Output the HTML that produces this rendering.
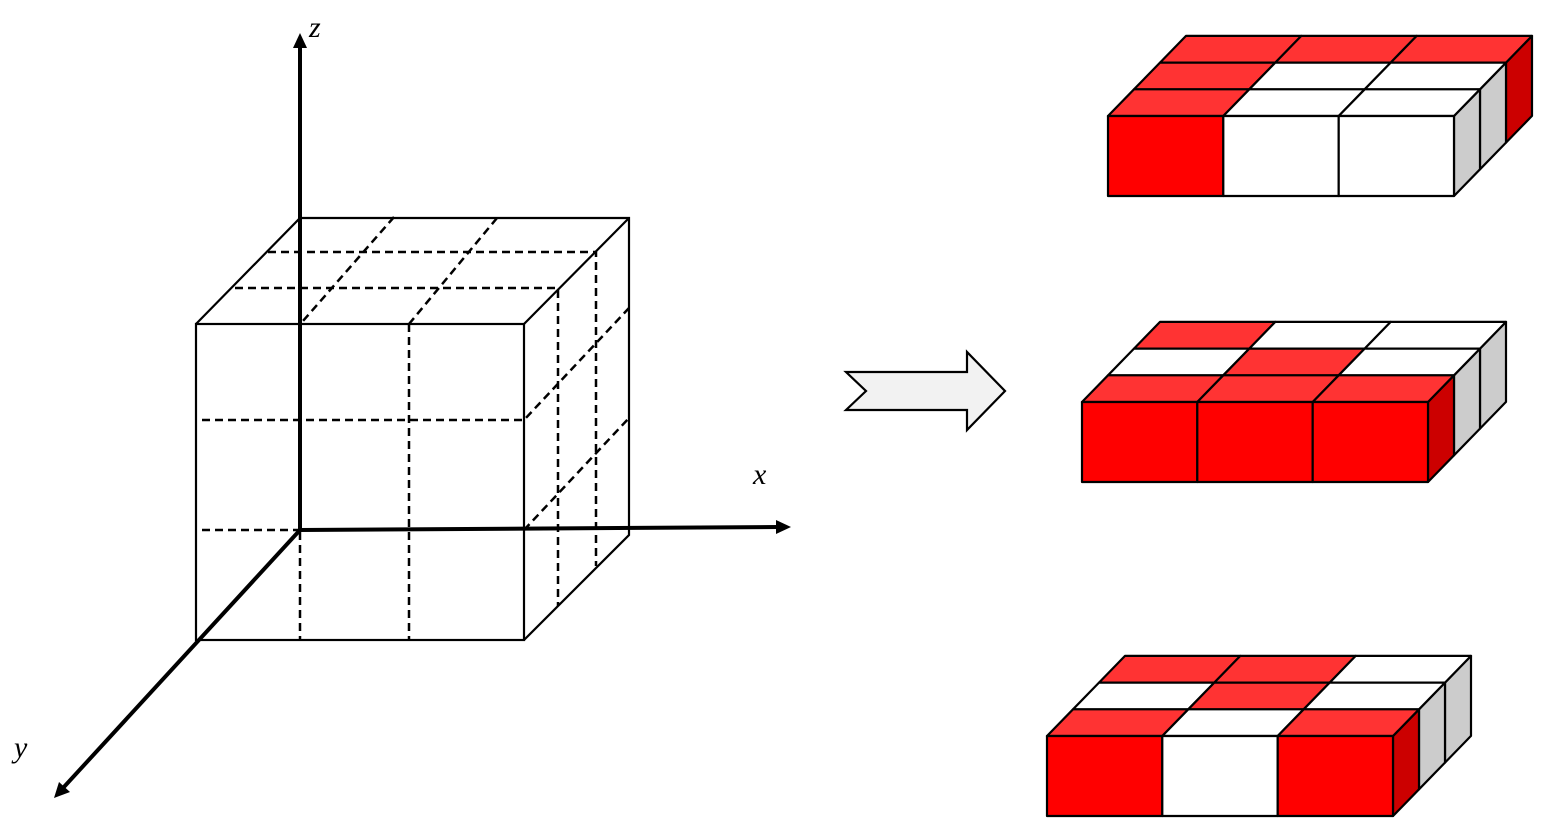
<!DOCTYPE html>
<html><head><meta charset="utf-8"><style>html,body{margin:0;padding:0;background:#fff}svg{display:block}</style></head>
<body>
<svg id="s" width="1558" height="838" viewBox="0 0 1558 838" xmlns="http://www.w3.org/2000/svg">
<rect width="1558" height="838" fill="#fff"/>
<g stroke="#000" stroke-width="2.2" fill="none">
<rect x="196" y="324" width="328" height="316"/>
<polyline points="196,324 300,218 629,218 629,535 524,640"/>
<line x1="524" y1="324" x2="629" y2="218"/>
</g>
<g stroke="#000" stroke-width="2.5" fill="none" stroke-dasharray="8,5">
<polyline points="268,252 596,252 596,566"/>
<polyline points="235,288 558,288 558,606"/>
<line x1="394" y1="217" x2="303" y2="321"/>
<line x1="497" y1="218" x2="409" y2="324"/>
<line x1="409" y1="324" x2="409" y2="640"/>
<line x1="300" y1="532" x2="300" y2="640"/>
<polyline points="202,420 524,420 629,308"/>
<polyline points="202,530 300,530"/>
<line x1="524" y1="530" x2="629" y2="418"/>
</g>
<g stroke="#000" stroke-width="4" fill="none">
<line x1="300" y1="530" x2="300" y2="46"/>
<line x1="300" y1="530" x2="778" y2="527"/>
<line x1="300" y1="530" x2="63" y2="788"/>
</g>
<polygon points="300,33 293,48 307,48" fill="#000"/>
<polygon points="791,527 776,520 776,534" fill="#000"/>
<polygon points="54,798 59,782 70,792" fill="#000"/>
<g font-family="Liberation Serif, serif" font-style="italic" font-size="30" fill="#000">
<text x="309" y="37">z</text>
<text x="753" y="484">x</text>
<text x="14" y="757">y</text>
</g>
<polygon points="846,372 967,372 967,352 1005,391 967,430 967,410 846,410 866,391" fill="#f2f2f2" stroke="#000" stroke-width="2.2"/>
<g id="slabs"></g>
</svg>
<script>
(function(){
var NS="http://www.w3.org/2000/svg",g=document.getElementById("slabs");
var R="#ff0000",T="#ff3333",W="#ffffff",G="#cccccc",D="#cc0000";
function poly(pts,fill){var p=document.createElementNS(NS,"polygon");p.setAttribute("points",pts.map(function(a){return a[0].toFixed(1)+","+a[1].toFixed(1)}).join(" "));p.setAttribute("fill",fill);p.setAttribute("stroke","#000");p.setAttribute("stroke-width","2.2");p.setAttribute("stroke-linejoin","round");g.appendChild(p);}
function slab(x0,y0,front,top,side){
 var w=(346)/3,h=80,dx=26,dy=26.7;
 for(var r=2;r>=0;r--){var x=x0+3*w+r*dx,y=y0-r*dy;poly([[x,y],[x+dx,y-dy],[x+dx,y-dy+h],[x,y+h]],side[r]);}
 for(var r=2;r>=0;r--)for(var c=0;c<3;c++){var x=x0+c*w+r*dx,y=y0-r*dy;poly([[x,y],[x+w,y],[x+w+dx,y-dy],[x+dx,y-dy]],top[r][c]);}
 for(var c=0;c<3;c++){var x=x0+c*w;poly([[x,y0],[x+w,y0],[x+w,y0+h],[x,y0+h]],front[c]);}
}
slab(1108,116,[R,W,W],[[T,W,W],[T,W,W],[T,T,T]],[G,G,D]);
slab(1082,402,[R,R,R],[[T,T,T],[W,T,W],[T,W,W]],[D,G,G]);
slab(1047,736,[R,W,R],[[T,W,T],[W,T,W],[T,T,W]],[D,G,G]);
})();
</script>
</body></html>
